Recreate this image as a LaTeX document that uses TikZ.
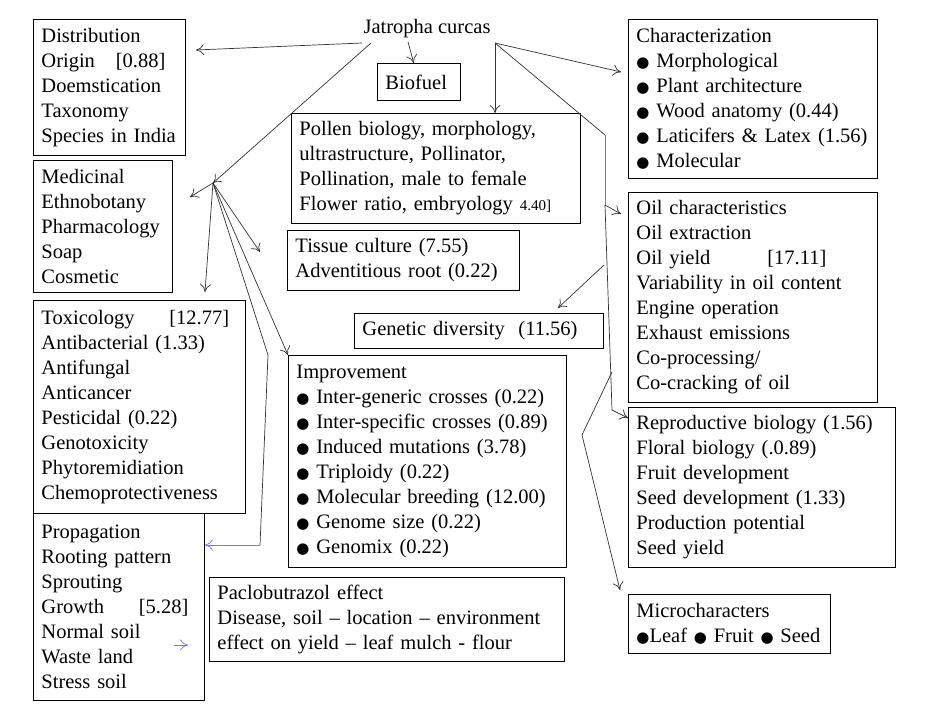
\documentclass[tikz,border=0pt]{standalone}
\usepackage{fontspec}
\setmainfont{Liberation Serif}
\newfontfamily\symfont{DejaVu Sans}
\usetikzlibrary{arrows.meta}
\newcommand{\bul}{{\symfont\fontsize{15}{25}\selectfont ●}}
\begin{document}
\begin{tikzpicture}[x=1pt, y=-1pt,
	box/.style={draw, line width=0.9pt, anchor=north west, align=left, inner xsep=8pt, inner ysep=4pt,
		font=\fontsize{20.5}{25}\selectfont},
	arr/.style={-{To[length=8pt,width=11pt]}, draw=black!80, line width=0.7pt},
	bluearr/.style={-{To[length=8pt,width=11pt]}, draw=blue!55, line width=0.7pt}]
	\useasboundingbox[fill=white] (0,0) rectangle (946,709);
	%title
	\node[font=\fontsize{20.5}{25}\selectfont] (jc) at (427,29) {Jatropha curcas};
	%boxes
	\node[box, text width=136, minimum height=136] (dist) at (33,19)
		{Distribution\\Origin \hspace{14pt}[0.88]\\Doemstication\\Taxonomy\\Species in India};
	\node[box, text width=67, minimum height=37] (bio) at (377,63) {Biofuel};
	\node[box, text width=233, minimum height=159] (char) at (628,19)
		{Characterization\\\bul{} Morphological\\\bul{} Plant architecture\\\bul{} Wood anatomy (0.44)\\\bul{} Laticifers \& Latex (1.56)\\\bul{} Molecular};
	\node[box, text width=273, minimum height=110] (pol) at (291,113)
		{Pollen biology, morphology,\\ultrastructure, Pollinator,\\Pollination, male to female\\Flower ratio, embryology {\fontsize{15}{25}\selectfont 4.40]}};
	\node[box, text width=123, minimum height=132] (med) at (33,160)
		{Medicinal\\Ethnobotany\\Pharmacology\\Soap\\Cosmetic};
	\node[box, text width=216, minimum height=60] (tis) at (287,230)
		{Tissue culture (7.55)\\Adventitious root (0.22)};
	\node[box, text width=233, minimum height=210] (oil) at (628,192)
		{Oil characteristics\\Oil extraction\\Oil yield \hspace{50pt}[17.11]\\Variability in oil content\\Engine operation\\Exhaust emissions\\Co-processing/\\Co-cracking of oil};
	\node[box, text width=233, minimum height=35] (gen) at (354,313) {Genetic diversity\ \ (11.56)};
	\node[box, text width=196, minimum height=213] (tox) at (33,300)
		{Toxicology \hspace{28pt}[12.77]\\Antibacterial (1.33)\\Antifungal\\Anticancer\\Pesticidal (0.22)\\Genotoxicity\\Phytoremidiation\\Chemoprotectiveness};
	\node[box, text width=262, minimum height=212] (imp) at (288,355)
		{Improvement\\\bul{} Inter-generic crosses (0.22)\\\bul{} Inter-specific crosses (0.89)\\\bul{} Induced mutations (3.78)\\\bul{} Triploidy (0.22)\\\bul{} Molecular breeding (12.00)\\\bul{} Genome size (0.22)\\\bul{} Genomix (0.22)};
	\node[box, text width=251, minimum height=160] (rep) at (628,407)
		{Reproductive biology (1.56)\\Floral biology (.0.89)\\Fruit development\\Seed development (1.33)\\Production potential\\Seed yield};
	\node[box, text width=155, minimum height=187] (prop) at (33,513)
		{Propagation\\Rooting pattern\\Sprouting\\Growth \hspace{28pt}[5.28]\\Normal soil\\Waste land\\Stress soil};
	\node[box, text width=339, minimum height=84] (pac) at (209,577)
		{Paclobutrazol effect\\Disease, soil -- location -- environment\\effect on yield -- leaf mulch - flour};
	\node[box, text width=186, minimum height=59] (mic) at (628,594)
		{Microcharacters\\\bul{}Leaf \bul{} Fruit \bul{} Seed};
	%junction points
	\coordinate (jl) at (362,43);
	\coordinate (jm) at (371,43);
	\coordinate (jr) at (495,43);
	\coordinate (hub) at (213,183);
	\coordinate (bend) at (268,355);
	\coordinate (bendb) at (260,545);
	\coordinate (rk) at (605,135);
	\coordinate (rb) at (605,205);
	\coordinate (rc) at (612,410);
	\coordinate (gs) at (604,265);
	\coordinate (ms) at (612,372);
	\coordinate (mk) at (582,435);
	%connectors
	\draw[arr] (jl) -- (196,50);
	\draw[arr] (408,42) -- (bio);
	\draw[arr] (jm) -- (hub);
	\draw[arr] (hub) -- (190,197);
	\draw[arr] (hub) -- (205,292);
	\draw[arr] (hub) -- (260,252);
	\draw[arr] (hub) -- (imp.north west);
	\draw[draw=black!80, line width=0.7pt] (hub) -- (bend) -- (bendb);
	\draw[bluearr] (bendb) -- (prop.east |- bendb);
	\draw[arr] (jr) -- (495,113);
	\draw[arr] (jr) -- (621,72);
	\draw[draw=black!80, line width=0.7pt] (jr) -- (rk);
	\draw[draw=blue!55, line width=0.7pt] (rk) -- (rb);
	\draw[arr] (rb) -- (621,214);
	\draw[draw=black!80, line width=0.7pt] (rb) -- (rc);
	\draw[arr] (rc) -- (628,418);
	\draw[arr] (gs) -- (558,308);
	\draw[draw=black!80, line width=0.7pt] (ms) -- (mk);
	\draw[arr] (mk) -- (620,590);
	\draw[bluearr] (174,645) -- (188,645);
\end{tikzpicture}
\end{document}
